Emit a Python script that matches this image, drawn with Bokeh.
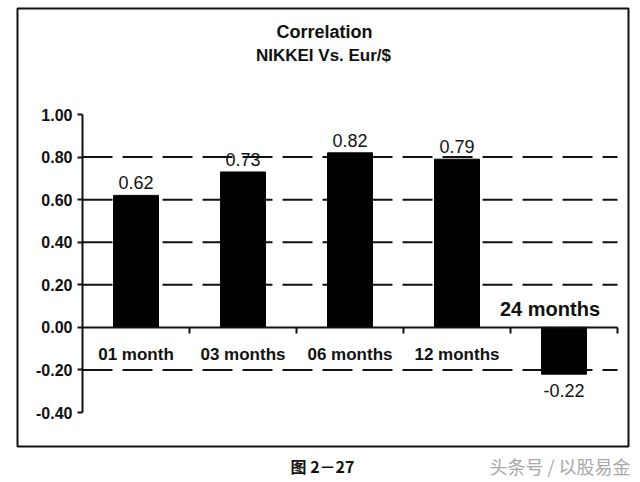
from bokeh.plotting import figure
from bokeh.models import (FixedTicker, NumeralTickFormatter, LinearAxis, Range1d,
                          Label, BoxAnnotation)
from bokeh.core.properties import value
from bokeh.embed import file_html
from bokeh.resources import INLINE

categories = ["01 month", "03 months", "06 months", "12 months", "24 months"]
correlations = [0.62, 0.73, 0.82, 0.79, -0.22]
value_labels = ["0.62", "0.73", "0.82", "0.79", "-0.22"]
y_ticks = [-0.40, -0.20, 0.00, 0.20, 0.40, 0.60, 0.80, 1.00]
grid_ticks = [-0.20, 0.20, 0.40, 0.60, 0.80]
title_lines = ["Correlation", "NIKKEI Vs. Eur/$"]
caption = "图 2－27"
watermark = "头条号 / 以股易金"

n = len(categories)
centers = [i + 0.5 for i in range(n)]
boundaries = [i + 1 for i in range(n)]
y_lo, y_hi = y_ticks[0], y_ticks[-1]

# layout (pixels)
W, H = 640, 482
AX_L, AX_R, AX_T, AX_B = 82, 617, 114, 412
ux = (AX_R - AX_L) / n
uy = (AX_B - AX_T) / (y_hi - y_lo)
x_range = Range1d(-AX_L / ux, n + (W - AX_R) / ux)
y_range = Range1d(y_lo - (H - AX_B) / uy, y_hi + AX_T / uy)

FONT = "Liberation Sans"
INK = "#111111"

p = figure(width=W, height=H, x_range=x_range, y_range=y_range,
           output_backend="svg", toolbar_location=None,
           x_axis_type=None, y_axis_type=None, min_border=0,
           background_fill_color="white", border_fill_color="white")
p.outline_line_color = None

# y axis at x = 0
ya = LinearAxis(ticker=FixedTicker(ticks=y_ticks), fixed_location=0, bounds=(y_lo, y_hi))
ya.formatter = NumeralTickFormatter(format="0.00")
ya.major_label_text_font = FONT
ya.major_label_text_font_style = "bold"
ya.major_label_text_font_size = "16px"
ya.major_label_text_color = INK
ya.axis_line_width = 2
ya.axis_line_color = INK
ya.major_tick_line_width = 2
ya.major_tick_line_color = INK
ya.major_tick_out = 5
ya.major_tick_in = 0
ya.minor_tick_line_color = None
ya.major_label_standoff = 5
p.add_layout(ya, "left")

# x axis at y = 0
xa = LinearAxis(ticker=FixedTicker(ticks=boundaries), fixed_location=0, bounds=(0, n))
xa.major_label_text_color = None
xa.axis_line_width = 2
xa.axis_line_color = INK
xa.major_tick_line_width = 2
xa.major_tick_line_color = INK
xa.major_tick_out = 6
xa.major_tick_in = 0
xa.minor_tick_line_color = None
p.add_layout(xa, "below")

# dashed grid lines
p.segment(x0=[0] * len(grid_ticks), x1=[n] * len(grid_ticks), y0=grid_ticks, y1=grid_ticks,
          line_color=INK, line_width=2, line_dash="30 10")

# bars
p.vbar(x=centers, top=correlations, bottom=0, width=0.42,
       fill_color="black", line_color="black")

pos = [i for i, v in enumerate(correlations) if v >= 0]
neg = [i for i, v in enumerate(correlations) if v < 0]

# value labels
p.text(x=[centers[i] for i in pos], y=[correlations[i] for i in pos],
       text=[value_labels[i] for i in pos], text_align="center", text_baseline="bottom",
       y_offset=-6, text_font=value(FONT), text_font_size="18px", text_color=INK)
p.text(x=[centers[i] for i in neg], y=[correlations[i] for i in neg],
       text=[value_labels[i] for i in neg], text_align="center", text_baseline="top",
       y_offset=10, text_font=value(FONT), text_font_size="18px", text_color=INK)

# category labels
p.text(x=[centers[i] for i in pos], y=[0 for i in pos],
       text=[categories[i] for i in pos], text_align="center", text_baseline="middle",
       y_offset=27, text_font=value(FONT), text_font_style="bold",
       text_font_size="17px", text_color=INK)
p.text(x=[centers[i] for i in neg], y=[0 for i in neg],
       text=[categories[i] for i in neg], text_align="center", text_baseline="middle",
       y_offset=-18, x_offset=-14, text_font=value(FONT), text_font_style="bold",
       text_font_size="20px", text_color=INK)

# titles (screen units: from left / from bottom)
p.add_layout(Label(x=324, y=H - 31, x_units="screen", y_units="screen", text=title_lines[0],
                   text_align="center", text_baseline="middle", text_font=FONT,
                   text_font_style="bold", text_font_size="18px", text_color=INK))
p.add_layout(Label(x=323, y=H - 55, x_units="screen", y_units="screen", text=title_lines[1],
                   text_align="center", text_baseline="middle", text_font=FONT,
                   text_font_style="bold", text_font_size="17px", text_color=INK))

# outer frame
p.add_layout(BoxAnnotation(left=17, right=628, top=H - 8, bottom=H - 446,
                           left_units="screen", right_units="screen",
                           top_units="screen", bottom_units="screen",
                           fill_alpha=0, fill_color=None, line_color=INK,
                           line_alpha=1.0, line_width=2))

# caption and watermark
p.add_layout(Label(x=322, y=H - 465, x_units="screen", y_units="screen", text=caption,
                   text_align="center", text_baseline="middle", text_font="Noto Sans CJK SC",
                   text_font_style="bold", text_font_size="16px", text_color=INK))
p.add_layout(Label(x=630, y=H - 465, x_units="screen", y_units="screen", text=watermark,
                   text_align="right", text_baseline="middle", text_font="Noto Sans CJK SC",
                   text_font_size="18px", text_color="#a8a8a8"))

open("out.html", "w").write(file_html(p, INLINE))
